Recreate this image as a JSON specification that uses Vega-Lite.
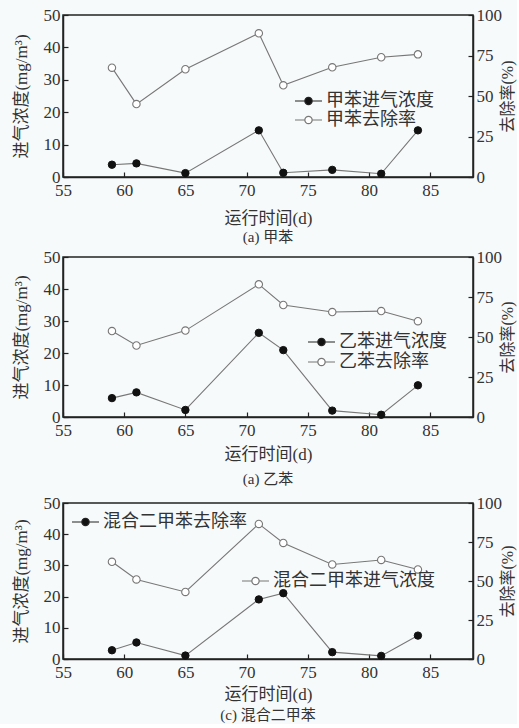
{
  "$schema": "https://vega.github.io/schema/vega-lite/v6.json",
  "background": "#f7fafb",
  "padding": {"left": 11, "top": 5, "right": 0, "bottom": 0},
  "config": {
    "font": "Liberation Serif, Noto Sans CJK SC",
    "view": {"stroke": "#222", "strokeWidth": 1.5},
    "axis": {
      "grid": false,
      "domainColor": "#222",
      "domainWidth": 1.5,
      "tickColor": "#222",
      "tickWidth": 1.2,
      "tickSize": -5,
      "labelFontSize": 17,
      "labelColor": "#333",
      "labelFont": "Liberation Serif",
      "titleFont": "Liberation Serif, Noto Sans CJK SC",
      "titleFontSize": 17,
      "titleFontWeight": "normal",
      "titleColor": "#333",
      "labelFlush": false,
      "labelOverlap": false,
      "labelPadding": 8
    },
    "legend": {
      "symbolType": "M-1,0H-0.27M0.27,0H1M0.27,0A0.27,0.27,0,1,1,-0.27,0A0.27,0.27,0,1,1,0.27,0",
      "symbolSize": 729,
      "symbolStrokeWidth": 1.2,
      "labelFont": "Noto Sans CJK SC",
      "labelFontSize": 18,
      "labelColor": "#333",
      "labelOffset": 3,
      "labelLimit": 0
    },
    "title": {"font": "Liberation Serif, Noto Sans CJK SC", "fontSize": 15, "fontWeight": "normal", "color": "#333"}
  },
  "datasets": {
    "a": [
      {"day": 59, "conc": 3.8, "rate": 67.5},
      {"day": 61, "conc": 4.2, "rate": 45.0},
      {"day": 65, "conc": 1.2, "rate": 66.5},
      {"day": 71, "conc": 14.4, "rate": 88.7},
      {"day": 73, "conc": 1.3, "rate": 56.6},
      {"day": 77, "conc": 2.2, "rate": 67.7},
      {"day": 81, "conc": 1.0, "rate": 73.9},
      {"day": 84, "conc": 14.4, "rate": 75.7}
    ],
    "b": [
      {"day": 59, "conc": 5.9, "rate": 53.7},
      {"day": 61, "conc": 7.7, "rate": 44.7},
      {"day": 65, "conc": 2.2, "rate": 54.0},
      {"day": 71, "conc": 26.3, "rate": 82.9},
      {"day": 73, "conc": 20.9, "rate": 70.0},
      {"day": 77, "conc": 2.0, "rate": 65.6},
      {"day": 81, "conc": 0.7, "rate": 66.2},
      {"day": 84, "conc": 9.9, "rate": 59.9}
    ],
    "c": [
      {"day": 59, "conc": 2.8, "rate": 62.3},
      {"day": 61, "conc": 5.3, "rate": 51.0},
      {"day": 65, "conc": 1.1, "rate": 43.0},
      {"day": 71, "conc": 19.1, "rate": 86.6},
      {"day": 73, "conc": 21.1, "rate": 74.4},
      {"day": 77, "conc": 2.2, "rate": 60.6},
      {"day": 81, "conc": 1.0, "rate": 63.5},
      {"day": 84, "conc": 7.5, "rate": 57.4}
    ]
  },
  "spacing": 5,
  "resolve": {"scale": {"fill": "independent", "stroke": "independent"}, "legend": {"fill": "independent", "stroke": "independent"}},
  "vconcat": [
    {
      "spacing": 1,
      "resolve": {"scale": {"fill": "independent", "stroke": "independent"}, "legend": {"fill": "independent", "stroke": "independent"}},
      "vconcat": [
        {
          "data": {"name": "a"},
          "width": 410,
          "height": 162,
          "title": {"text": "(a) 甲苯", "orient": "bottom", "offset": 4},
          "encoding": {
            "x": {"field": "day", "type": "quantitative", "scale": {"domain": [55, 88.5], "nice": false, "zero": false},
                  "axis": {"values": [55, 60, 65, 70, 75, 80, 85], "title": "运行时间(d)", "titlePadding": 12, "labelPadding": 10}}
          },
          "layer": [
            {"encoding": {"y": {"field": "conc", "type": "quantitative", "scale": {"domain": [0, 50], "nice": false},
                                "axis": {"values": [0, 10, 20, 30, 40, 50], "title": "进气浓度(mg/m³)", "titlePadding": 13}}},
             "layer": [
              {"mark": {"type": "line", "color": "#777", "strokeWidth": 1.1}},
              {"mark": {"type": "point", "filled": true, "size": 55, "opacity": 1, "stroke": "#111", "strokeWidth": 1},
               "encoding": {"fill": {"datum": "甲苯进气浓度", "scale": {"range": ["#111"]},
                                     "legend": {"title": null, "orient": "none", "legendX": 231, "legendY": 71.5, "symbolStrokeColor": "#222"}}}}
            ]},
            {"encoding": {"y": {"field": "rate", "type": "quantitative", "scale": {"domain": [0, 100], "nice": false},
                                "axis": {"orient": "right", "values": [0, 25, 50, 75, 100], "title": "去除率(%)", "titleAngle": 270, "titlePadding": 14, "titleFontSize": 16}}},
             "layer": [
              {"mark": {"type": "line", "color": "#777", "strokeWidth": 1.1}},
              {"mark": {"type": "point", "filled": false, "fill": "white", "size": 55, "opacity": 1, "strokeWidth": 1.1},
               "encoding": {"stroke": {"datum": "甲苯去除率", "scale": {"range": ["#777"]},
                                       "legend": {"title": null, "orient": "none", "legendX": 231, "legendY": 90.5, "symbolFillColor": "white", "symbolStrokeColor": "#555"}}}}
            ]}
          ],
          "resolve": {"scale": {"y": "independent"}}
        },
        {
          "data": {"name": "b"},
          "width": 410,
          "height": 160,
          "title": {"text": "(a) 乙苯", "orient": "bottom", "offset": 10},
          "encoding": {
            "x": {"field": "day", "type": "quantitative", "scale": {"domain": [55, 88.5], "nice": false, "zero": false},
                  "axis": {"values": [55, 60, 65, 70, 75, 80, 85], "title": "运行时间(d)", "titlePadding": 8, "labelPadding": 10}}
          },
          "layer": [
            {"encoding": {"y": {"field": "conc", "type": "quantitative", "scale": {"domain": [0, 50], "nice": false},
                                "axis": {"values": [0, 10, 20, 30, 40, 50], "title": "进气浓度(mg/m³)", "titlePadding": 13}}},
             "layer": [
              {"mark": {"type": "line", "color": "#777", "strokeWidth": 1.1}},
              {"mark": {"type": "point", "filled": true, "size": 55, "opacity": 1, "stroke": "#111", "strokeWidth": 1},
               "encoding": {"fill": {"datum": "乙苯进气浓度", "scale": {"range": ["#111"]},
                                     "legend": {"title": null, "orient": "none", "legendX": 244, "legendY": 70.5, "symbolStrokeColor": "#222"}}}}
            ]},
            {"encoding": {"y": {"field": "rate", "type": "quantitative", "scale": {"domain": [0, 100], "nice": false},
                                "axis": {"orient": "right", "values": [0, 25, 50, 75, 100], "title": "去除率(%)", "titleAngle": 270, "titlePadding": 14, "titleFontSize": 16}}},
             "layer": [
              {"mark": {"type": "line", "color": "#777", "strokeWidth": 1.1}},
              {"mark": {"type": "point", "filled": false, "fill": "white", "size": 55, "opacity": 1, "strokeWidth": 1.1},
               "encoding": {"stroke": {"datum": "乙苯去除率", "scale": {"range": ["#777"]},
                                       "legend": {"title": null, "orient": "none", "legendX": 244, "legendY": 90.5, "symbolFillColor": "white", "symbolStrokeColor": "#555"}}}}
            ]}
          ],
          "resolve": {"scale": {"y": "independent"}}
        }
      ]
    },
    {
      "data": {"name": "c"},
      "width": 410,
      "height": 156,
      "title": {"text": "(c) 混合二甲苯", "orient": "bottom", "offset": 6},
      "encoding": {
        "x": {"field": "day", "type": "quantitative", "scale": {"domain": [55, 88.5], "nice": false, "zero": false},
              "axis": {"values": [55, 60, 65, 70, 75, 80, 85], "title": "运行时间(d)", "titlePadding": 6, "labelPadding": 10}}
      },
      "layer": [
        {"encoding": {"y": {"field": "conc", "type": "quantitative", "scale": {"domain": [0, 50], "nice": false},
                            "axis": {"values": [0, 10, 20, 30, 40, 50], "title": "进气浓度(mg/m³)", "titlePadding": 13}}},
         "layer": [
          {"mark": {"type": "line", "color": "#777", "strokeWidth": 1.1}},
          {"mark": {"type": "point", "filled": true, "size": 55, "opacity": 1, "stroke": "#111", "strokeWidth": 1},
           "encoding": {"fill": {"datum": "混合二甲苯去除率", "scale": {"range": ["#111"]},
                                 "legend": {"title": null, "orient": "none", "legendX": 8, "legendY": 4.5, "symbolStrokeColor": "#222"}}}}
        ]},
        {"encoding": {"y": {"field": "rate", "type": "quantitative", "scale": {"domain": [0, 100], "nice": false},
                            "axis": {"orient": "right", "values": [0, 25, 50, 75, 100], "title": "去除率(%)", "titleAngle": 270, "titlePadding": 14, "titleFontSize": 16}}},
         "layer": [
          {"mark": {"type": "line", "color": "#777", "strokeWidth": 1.1}},
          {"mark": {"type": "point", "filled": false, "fill": "white", "size": 55, "opacity": 1, "strokeWidth": 1.1},
           "encoding": {"stroke": {"datum": "混合二甲苯进气浓度", "scale": {"range": ["#777"]},
                                   "legend": {"title": null, "orient": "none", "legendX": 178, "legendY": 63.5, "symbolFillColor": "white", "symbolStrokeColor": "#555"}}}}
        ]}
      ],
      "resolve": {"scale": {"y": "independent"}}
    }
  ]
}
